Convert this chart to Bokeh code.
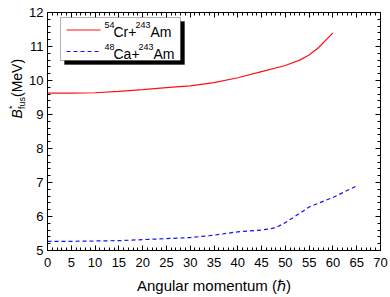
import math
from bokeh.plotting import figure
from bokeh.layouts import row
from bokeh.models import (Range1d, LinearAxis, SingleIntervalTicker, Label,
                          BoxAnnotation, Arrow, CustomJSTickFormatter)
from bokeh.embed import file_html
from bokeh.resources import INLINE

# ---- data ----
cr_L = [0, 5, 10, 15, 20, 25, 27, 30, 35, 40, 45, 50, 53, 55, 57, 60]
cr_B = [9.63, 9.63, 9.64, 9.68, 9.73, 9.79, 9.81, 9.84, 9.94, 10.08, 10.26,
        10.44, 10.60, 10.75, 10.97, 11.40]
ca_L = [0, 5, 10, 15, 20, 25, 30, 35, 40, 45, 48, 50, 52, 55, 60, 65]
ca_B = [5.27, 5.27, 5.28, 5.29, 5.32, 5.35, 5.38, 5.45, 5.55, 5.60, 5.67,
        5.82, 6.00, 6.28, 6.56, 6.90]
x_label = "Angular momentum (\u210f)"

FONT = "Liberation Sans"
LEFT_W = 26

p = figure(width=390 - LEFT_W, height=297, output_backend="svg",
           toolbar_location=None,
           x_range=Range1d(0, 70), y_range=Range1d(5, 12),
           x_axis_type=None, y_axis_type=None,
           min_border_left=47 - LEFT_W, min_border_right=10, min_border_top=12,
           min_border_bottom=47)
p.outline_line_color = "black"
p.background_fill_color = "white"
p.border_fill_color = "white"


def style(ax, labels=True):
    ax.axis_line_color = "black"
    ax.major_tick_in = 5
    ax.major_tick_out = 0
    ax.minor_tick_in = 3
    ax.minor_tick_out = 0
    ax.major_tick_line_color = "black"
    ax.minor_tick_line_color = "black"
    ax.major_label_text_font = FONT
    ax.major_label_text_color = "black"
    if labels:
        ax.major_label_text_font_size = "13px"
    else:
        ax.formatter = CustomJSTickFormatter(code="return ''")
        ax.major_label_text_font_size = "1px"
        ax.major_label_standoff = 0


xb = LinearAxis(ticker=SingleIntervalTicker(interval=5, num_minor_ticks=5))
style(xb)
xb.major_label_standoff = 7
xb.axis_label = x_label
xb.axis_label_text_font = FONT
xb.axis_label_text_font_size = "15px"
xb.axis_label_text_font_style = "normal"
xb.axis_label_text_color = "black"
xb.axis_label_standoff = 7
p.add_layout(xb, "below")

xt = LinearAxis(ticker=SingleIntervalTicker(interval=5, num_minor_ticks=5))
style(xt, labels=False)
p.add_layout(xt, "above")

yl = LinearAxis(ticker=SingleIntervalTicker(interval=1, num_minor_ticks=5))
style(yl)
yl.major_label_standoff = 4
p.add_layout(yl, "left")

yr = LinearAxis(ticker=SingleIntervalTicker(interval=1, num_minor_ticks=5))
style(yr, labels=False)
p.add_layout(yr, "right")

# ---- curves ----
p.line(cr_L, cr_B, line_color="#ff1010", line_width=1.2)
p.line(ca_L, ca_B, line_color="#1010ff", line_width=1.2, line_dash="4 3")


def lab(fig, text, x, y, size, style="normal", angle=0.0):
    fig.add_layout(Label(x=x, y=y, x_units="screen", y_units="screen", text=text,
                         text_font=FONT, text_font_size=size, text_color="black",
                         text_font_style=style, angle=angle,
                         text_align="left", text_baseline="alphabetic"))

# ---- legend (manual) ----
p.add_layout(BoxAnnotation(left=17, right=137, top=229, bottom=186,
                           left_units="screen", right_units="screen",
                           top_units="screen", bottom_units="screen",
                           fill_color="black", fill_alpha=1, line_color="black"))
p.add_layout(BoxAnnotation(left=13, right=133, top=233, bottom=190,
                           left_units="screen", right_units="screen",
                           top_units="screen", bottom_units="screen",
                           fill_color="white", fill_alpha=1, line_color="black",
                           line_width=1))
p.add_layout(Arrow(x_start=19, y_start=220.5, x_end=53, y_end=220.5,
                   start_units="screen", end_units="screen", end=None,
                   line_color="#ff1010", line_width=1.2))
p.add_layout(Arrow(x_start=19, y_start=199, x_end=53, y_end=199,
                   start_units="screen", end_units="screen", end=None,
                   line_color="#1010ff", line_width=1.2, line_dash="4 3"))

lab(p, "54", 57, 226, "9px")
lab(p, "Cr+", 66, 219, "14px")
lab(p, "243", 88, 226, "9px")
lab(p, "Am", 103, 219, "14px")
lab(p, "48", 57, 204, "9px")
lab(p, "Ca+", 66, 197, "14px")
lab(p, "243", 91, 204, "9px")
lab(p, "Am", 106, 197, "14px")

# ---- y axis title in a narrow side figure (sub/superscripts) ----
q = figure(width=LEFT_W, height=297, output_backend="svg", toolbar_location=None,
           x_range=Range1d(0, 1), y_range=Range1d(0, 1),
           x_axis_type=None, y_axis_type=None,
           min_border_left=0, min_border_right=0, min_border_top=0,
           min_border_bottom=0)
q.outline_line_color = None
q.background_fill_color = "white"
q.border_fill_color = "white"
q.xgrid.visible = False
q.ygrid.visible = False

rot = math.pi / 2
lab(q, "B", 16.5, 132, "14px", "italic", rot)
lab(q, "*", 11.5, 141.5, "9px", "normal", rot)
lab(q, "fus", 21.5, 141.5, "9px", "normal", rot)
lab(q, "(MeV)", 16.5, 153.5, "14px", "normal", rot)

layout = row(q, p, spacing=0)
open("out.html", "w").write(file_html(layout, INLINE))
